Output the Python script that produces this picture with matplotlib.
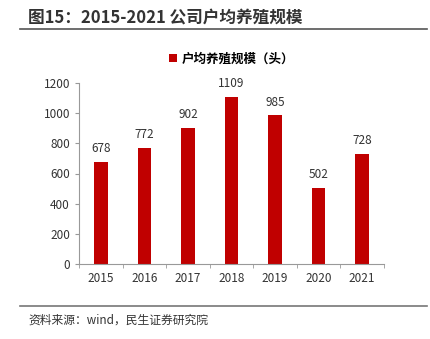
import matplotlib
matplotlib.use("Agg")
import matplotlib.pyplot as plt
import numpy as np

plt.rcParams['font.family'] = ['Noto Sans CJK SC', 'DejaVu Sans']

years = ['2015', '2016', '2017', '2018', '2019', '2020', '2021']
values = [678, 772, 902, 1109, 985, 502, 728]
title = '图15：2015-2021 公司户均养殖规模'
legend_label = '户均养殖规模（头）'
source = '资料来源：wind，民生证券研究院'

fig = plt.figure(figsize=(4.31, 3.39), dpi=100)
ax = fig.add_axes([79/431, 75/339, 305/431, (264-83)/339])

x = np.arange(len(years))
bars = ax.bar(x, values, width=0.31, color='#C00000', label=legend_label)
for xi, v in zip(x, values):
    ax.text(xi, v + 45, str(v), ha='center', va='bottom', fontsize=8.5, color='#333333')

ax.set_xlim(-0.5, len(years) - 0.5)
ax.set_ylim(0, 1200)
ax.set_yticks(range(0, 1201, 200))
ax.set_xticks(x)
ax.set_xticklabels(years)
ax.set_xticks(np.arange(-0.5, len(years)), minor=True)
ax.tick_params(axis='x', which='major', length=0, labelsize=8.5, colors='#333333', pad=6)
ax.tick_params(axis='x', which='minor', length=3, color='#999999', direction='out')
ax.tick_params(axis='y', length=3, color='#999999', labelsize=8.5, labelcolor='#333333')
for s in ['top', 'right']:
    ax.spines[s].set_visible(False)
for s in ['left', 'bottom']:
    ax.spines[s].set_color('#999999')
    ax.spines[s].set_linewidth(0.8)

leg = ax.legend(loc='lower center', bbox_to_anchor=(0.5, 1.035), frameon=False,
                handlelength=0.6, handleheight=0.6, handletextpad=0.4,
                prop={'weight': 'bold', 'size': 9})

fig.text(28/431, 1 - 17/339, title, fontsize=12, fontweight='bold', color='#333333',
         ha='left', va='center')
fig.add_artist(plt.Line2D([20/431, 427/431], [1 - 29/339, 1 - 29/339], color='#555555', lw=1.2))
fig.add_artist(plt.Line2D([20/431, 427/431], [1 - 306/339, 1 - 306/339], color='#777777', lw=1.2))
fig.text(28/431, 1 - 320/339, source, fontsize=8.5, color='#333333', ha='left', va='center')

fig.savefig('out.png', dpi=100)
